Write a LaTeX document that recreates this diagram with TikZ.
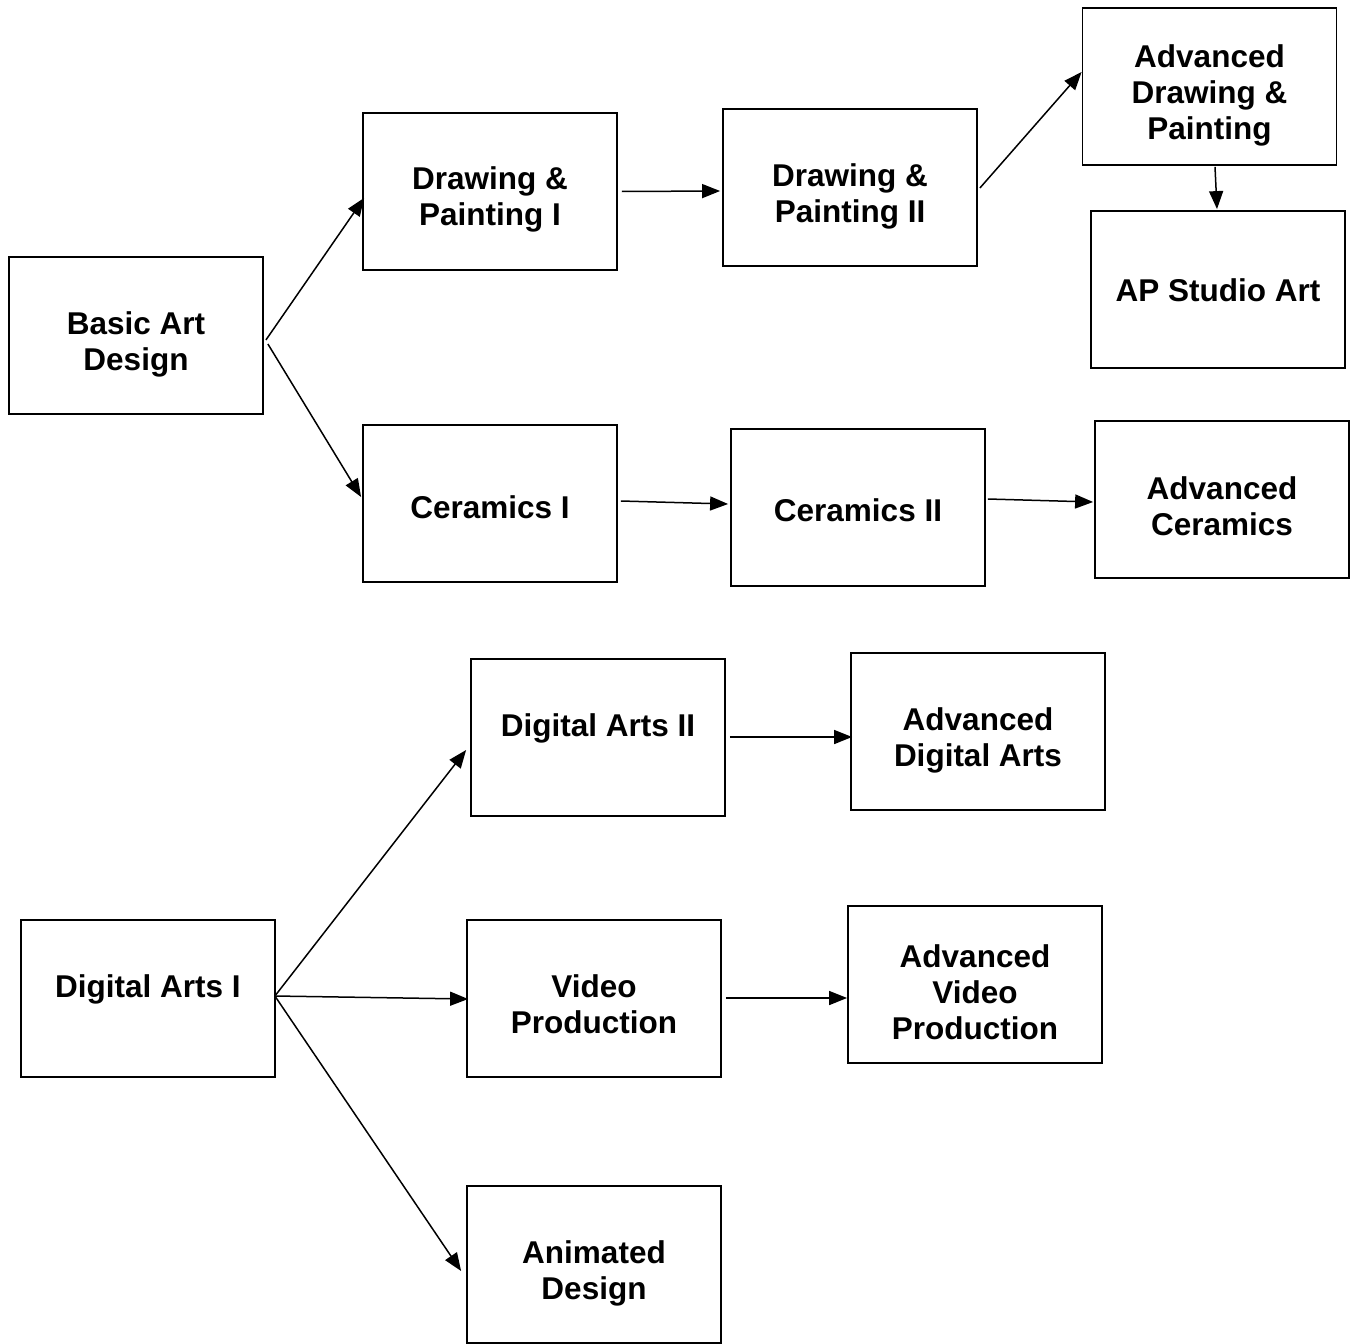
\documentclass[tikz,border=0pt]{standalone}
\usepackage{fontspec}
\setmainfont{Liberation Sans}
\usetikzlibrary{arrows.meta}
\begin{document}
\begin{tikzpicture}[x=1pt,y=-1pt,
  course/.style={draw=black,line width=1.8pt,minimum width=254pt,minimum height=157pt,inner sep=0pt},
  caption/.style={inner sep=0pt,align=center,font=\fontsize{31.5}{36}\selectfont\bfseries},
  arr/.style={-{Triangle[length=18pt,width=14pt]},line width=1.5pt}]
\useasboundingbox (0,0) rectangle (1356,1343);
% art strand
\node[course,label={[caption,yshift=-8.5pt]center:{Basic Art\\Design}}] (bad) at (136,335.5) {};
\node[course,label={[caption,yshift=-8pt]center:{Drawing \&\\Painting I}}] (dp1) at (490,191.5) {};
\node[course,label={[caption,yshift=-8.5pt]center:{Drawing \&\\Painting II}}] (dp2) at (850,187.5) {};
\node[course,label={[caption,yshift=-9pt]center:{Advanced\\Drawing \&\\Painting}}] (adp) at (1209.5,86.5) {};
\node[course,label={[caption,yshift=-1pt]center:{AP Studio Art}}] (ap) at (1218,289.5) {};
\node[course,label={[caption,yshift=-4pt]center:{Ceramics I}}] (cer1) at (490,503.5) {};
\node[course,label={[caption,yshift=-3pt]center:{Ceramics II}}] (cer2) at (858,507.5) {};
\node[course,label={[caption,yshift=-7pt]center:{Advanced\\Ceramics}}] (acer) at (1222,499.5) {};
% digital strand
\node[course,label={[caption,yshift=9pt]center:{Digital Arts II}}] (da2) at (598,737.5) {};
\node[course,label={[caption,yshift=-9pt]center:{Advanced\\Digital Arts}}] (ada) at (978,731.5) {};
\node[course,label={[caption,yshift=9pt]center:{Digital Arts I}}] (da1) at (148,998.5) {};
\node[course,label={[caption,yshift=-5.5pt]center:{Video\\Production}}] (vp) at (594,998.5) {};
\node[course,label={[caption,yshift=-7.5pt]center:{Advanced\\Video\\Production}}] (avp) at (975,984.5) {};
\node[course,label={[caption,yshift=-8.5pt]center:{Animated\\Design}}] (an) at (594,1264.5) {};
% connectors
\draw[arr] ([shift={(2,4.5)}]bad.east) -- ([shift={(2,6.5)}]dp1.west);
\draw[arr] ([shift={(4,8.5)}]bad.east) -- ([shift={(-1,-6.5)}]cer1.west);
\draw[arr] ([shift={(4,0)}]dp1.east) -- ([shift={(-2,3.5)}]dp2.west);
\draw[arr] ([shift={(2,0.5)}]dp2.east) -- ([shift={(0,-14.5)}]adp.west);
\draw[arr] ([shift={(5.5,1)}]adp.south) -- ([shift={(-1,-1)}]ap.north);
\draw[arr] ([shift={(3,-2.5)}]cer1.east) -- ([shift={(-2,-3.5)}]cer2.west);
\draw[arr] ([shift={(2,-8.5)}]cer2.east) -- ([shift={(-1,2.5)}]acer.west);
\draw[arr] ([shift={(4,-0.5)}]da2.east) -- ([shift={(2,5.5)}]ada.west);
\coordinate (fan) at ([shift={(-1,-2.5)}]da1.east);
\draw[arr] (fan) -- ([shift={(-4,12.5)}]da2.west);
\draw[arr] (fan) -- ([shift={(2,0.5)}]vp.west);
\draw[arr] (fan) -- ([shift={(-5,6.5)}]an.west);
\draw[arr] ([shift={(4,-0.5)}]vp.east) -- ([shift={(0,13.5)}]avp.west);
\end{tikzpicture}
\end{document}
